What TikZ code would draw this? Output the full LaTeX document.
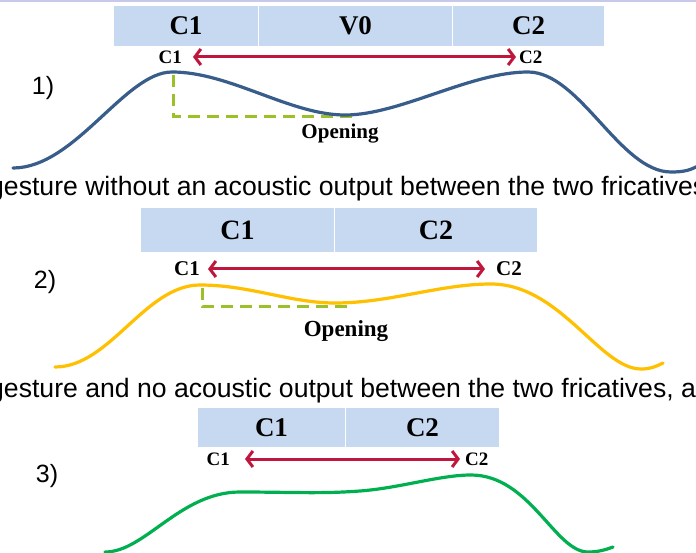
\documentclass[tikz,border=0pt]{standalone}
\usepackage{fontspec}
\setmainfont{Liberation Serif}
\newfontfamily\capfont{Liberation Sans}
\usetikzlibrary{arrows.meta}

\definecolor{cellblue}{HTML}{C6D9F1}
\definecolor{spanred}{RGB}{190,22,60}
\definecolor{curveblue}{HTML}{385D8A}
\definecolor{curveorange}{HTML}{FFC000}
\definecolor{curvegreen}{HTML}{00B050}
\definecolor{openinggreen}{RGB}{155,192,40}
\definecolor{rulelav}{RGB}{200,200,232}

\begin{document}
\begin{tikzpicture}[x=1pt,y=-1pt,
  cell/.style={draw=white, line width=1pt, fill=cellblue, anchor=north west,
    inner sep=0pt, font=\bfseries\fontsize{27}{30}\selectfont},
  tag/.style={inner sep=0pt, font=\bfseries\fontsize{19}{21}\selectfont},
  bigtag/.style={inner sep=0pt, font=\bfseries\fontsize{21}{23}\selectfont},
  span/.style={draw=spanred, line width=3pt,
    {Straight Barb[length=6pt,width=16pt]}-{Straight Barb[length=6pt,width=16pt]}},
  curve/.style={line width=3.2pt, line cap=round},
  opening/.style={draw=openinggreen, line width=3pt, dash pattern=on 12pt off 7pt},
  openlabel/.style={inner sep=0pt, font=\bfseries\fontsize{21}{23}\selectfont},
  num/.style={inner sep=0pt, font=\capfont\fontsize{25}{27}\selectfont},
  caption/.style={inner sep=0pt, anchor=base west, font=\capfont\fontsize{26.6}{30}\selectfont}]

\clip (0,0) rectangle (696,553);
\fill[white] (0,0) rectangle (696,553);
\draw[rulelav, line width=1.5pt] (0,1) -- (696,1);

% ---------- case 1: C1 - V0 - C2 ----------
\node[cell, minimum width=145pt, minimum height=41pt] (p1c1) at (113,5) {C1};
\node[cell, minimum width=194pt, minimum height=41pt] (p1v0) at (258,5) {V0};
\node[cell, minimum width=152pt, minimum height=41pt] (p1c2) at (452,5) {C2};

\node[tag, anchor=east] (p1a) at (182,57) {C1};
\node[tag, anchor=west] (p1b) at (519,57) {C2};
\draw[span, shorten <=11pt, shorten >=3pt] (p1a.east) -- (p1b.west);

\node[num] (n1) at (43,88) {1)};

\draw[opening] (173,75) -- (173,117) -- (352,117);
\node[openlabel] (o1) at (340,134) {Opening};

\draw[curve, curveblue] (13,168)
  .. controls (75,168) and (125,72) .. (172,72)
  .. controls (230,72) and (290,115) .. (345,115)
  .. controls (400,115) and (470,72) .. (528,72)
  .. controls (580,72) and (620,172) .. (671,172)
  .. controls (685,172) and (690,170) .. (698,166);

\node[caption] (cap1) at (-11,196) {gesture without an acoustic output between the two fricatives};

% ---------- case 2: C1 - C2 ----------
\node[cell, minimum width=194pt, minimum height=45pt, font=\bfseries\fontsize{28}{30}\selectfont] (p2c1) at (140,207) {C1};
\node[cell, minimum width=203pt, minimum height=45pt, font=\bfseries\fontsize{28}{30}\selectfont] (p2c2) at (334,207) {C2};

\node[bigtag, anchor=east] (p2a) at (200,269) {C1};
\node[bigtag, anchor=west] (p2b) at (496,269) {C2};
\draw[span, shorten <=8pt, shorten >=11pt] (p2a.east) -- (p2b.west);

\node[num] (n2) at (45,282) {2)};

\draw[opening] (202,288) -- (202,307) -- (352,307);
\node[openlabel, font=\bfseries\fontsize{23}{25}\selectfont] (o2) at (346,331) {Opening};

\draw[curve, curveorange] (55,367)
  .. controls (110,367) and (145,285) .. (200,285)
  .. controls (250,285) and (290,303) .. (335,303)
  .. controls (390,303) and (440,284) .. (491,284)
  .. controls (560,284) and (600,369) .. (641,369)
  .. controls (650,369) and (655,367) .. (663,363);

\node[caption] (cap2) at (-11,397) {gesture and no acoustic output between the two fricatives, a};

% ---------- case 3: C1 - C2, no opening ----------
\node[cell, minimum width=148pt, minimum height=40pt] (p3c1) at (197,407) {C1};
\node[cell, minimum width=154pt, minimum height=40pt] (p3c2) at (345,407) {C2};

\node[tag, anchor=east] (p3a) at (230,459) {C1};
\node[tag, anchor=west] (p3b) at (465,459) {C2};
\draw[span, shorten <=15pt, shorten >=5pt] (p3a.east) -- (p3b.west);

\node[num] (n3) at (47,476) {3)};

\draw[curve, curvegreen] (105,552)
  .. controls (145,552) and (180,492) .. (240,492)
  .. controls (290,492) and (320,494) .. (360,491)
  .. controls (400,488) and (440,475) .. (471,475)
  .. controls (530,475) and (555,552) .. (588,552)
  .. controls (598,552) and (605,550) .. (613,547);

\end{tikzpicture}
\end{document}
